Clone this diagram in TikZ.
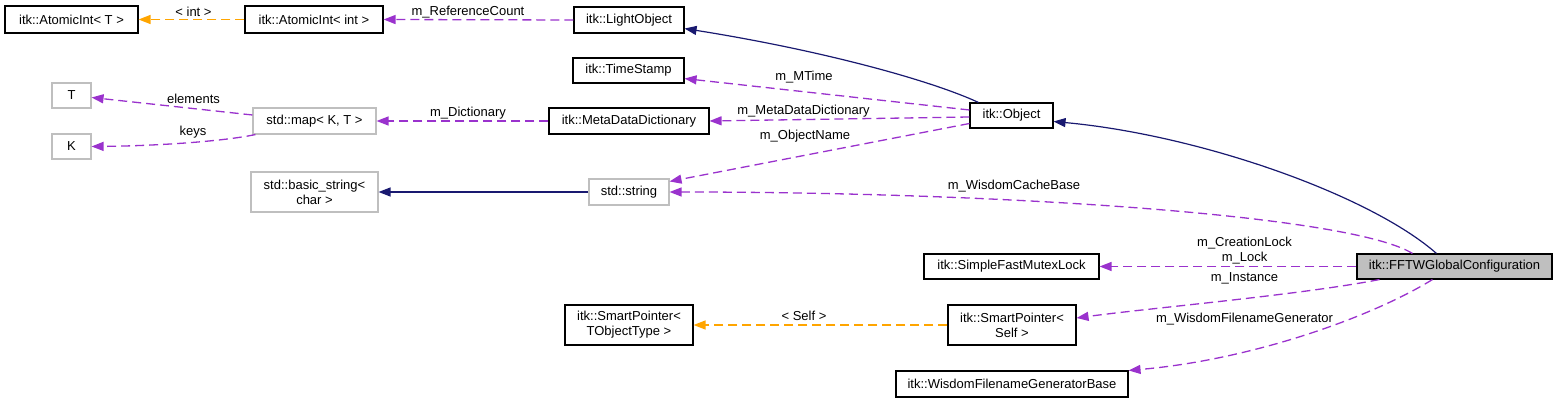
\documentclass[tikz,border=0pt]{standalone}
\usepackage{fontspec}
\setmainfont{Liberation Sans}
\usetikzlibrary{arrows.meta}
\definecolor{purp}{HTML}{9A32CD}
\definecolor{orng}{HTML}{FFA500}
\definecolor{navyc}{HTML}{191970}
\definecolor{gbord}{HTML}{BFBFBF}
\definecolor{gfill}{HTML}{BFBFBF}
\tikzset{
  box/.style={draw=black, line width=1.1pt, fill=white, inner sep=0pt, align=center,
    font=\fontsize{13}{15}\selectfont},
  gbox/.style={box, draw=gbord},
  lab/.style={inner sep=0pt, align=center, font=\fontsize{13}{15}\selectfont},
  tip/.style={-{Triangle[length=12pt,width=9pt]}},
  dep/.style={tip, draw=purp, line width=1.3pt, dash pattern=on 9pt off 5pt},
  tpl/.style={tip, draw=orng, line width=1.3pt, dash pattern=on 9pt off 5pt},
  inh/.style={tip, draw=navyc, line width=1.2pt},
}
\begin{document}
\begin{tikzpicture}[x=1pt,y=-1pt]
\useasboundingbox (0,0) rectangle (1557,403);
% nodes
\node[box, minimum width=133pt, minimum height=27pt] (aT) at (71.5,19.5) {itk::AtomicInt< T >};
\node[box, minimum width=138pt, minimum height=27pt] (aInt) at (314,19.5) {itk::AtomicInt< int >};
\node[box, minimum width=110pt, minimum height=26pt] (light) at (629,20) {itk::LightObject};
\node[box, minimum width=111pt, minimum height=25pt] (ts) at (628.5,70.5) {itk::TimeStamp};
\node[gbox, minimum width=39pt, minimum height=25pt] (T) at (71.5,95.5) {T};
\node[gbox, minimum width=39pt, minimum height=25pt] (K) at (71.5,146.5) {K};
\node[gbox, minimum width=123pt, minimum height=26pt] (map) at (314.5,121) {std::map< K, T >};
\node[box, minimum width=160pt, minimum height=26pt] (mdd) at (629,121) {itk::MetaDataDictionary};
\node[box, minimum width=83pt, minimum height=25pt] (obj) at (1011.5,115.5) {itk::Object};
\node[gbox, minimum width=127pt, minimum height=40pt] (bstr) at (314.5,192) {std::basic\_string<\\char >};
\node[gbox, minimum width=80pt, minimum height=26pt] (str) at (629,192) {std::string};
\node[box, minimum width=175pt, minimum height=25pt] (mutex) at (1011.5,266.5) {itk::SimpleFastMutexLock};
\node[box, fill=gfill, minimum width=195pt, minimum height=25pt] (fftw) at (1454.5,266.5) {itk::FFTWGlobalConfiguration};
\node[box, minimum width=128pt, minimum height=40pt] (spT) at (629,325) {itk::SmartPointer<\\TObjectType >};
\node[box, minimum width=128pt, minimum height=40pt] (spS) at (1012,325) {itk::SmartPointer<\\Self >};
\node[box, minimum width=232pt, minimum height=26pt] (wfgb) at (1012,384) {itk::WisdomFilenameGeneratorBase};
% edges
\draw[tpl] (aInt.west) -- (aT.east) node[lab] at (193.5,12) {< int >};
\draw[dep] (light.west) -- (aInt.east) node[lab] at (468,12) {m\_ReferenceCount};
\draw[dep] ([yshift=6pt]map.west) -- ([yshift=-2pt]T.east) node[lab] at (193.5,99) {elements};
\draw[dep] ([xshift=3pt]map.south west) .. controls (220,142) and (150,146) .. (K.east) node[lab] at (193,132) {keys};
\draw[dep] (mdd.west) -- (map.east) node[lab] at (468,113.5) {m\_Dictionary};
\draw[inh] ([xshift=9pt]obj.north west) .. controls (930,80) and (820,50) .. ([yshift=5pt]light.south east);
\draw[dep] ([yshift=5.5pt]obj.west) -- ([yshift=5pt]ts.south east) node[lab] at (804,77) {m\_MTime};
\draw[dep] ([yshift=-1.5pt]obj.west) -- (mdd.east) node[lab] at (803.5,111) {m\_MetaDataDictionary};
\draw[dep] ([yshift=-8pt]obj.west) -- ([yshift=-3pt]str.north east) node[lab] at (805,136) {m\_ObjectName};
\draw[inh] ([xshift=80pt]fftw.north west) .. controls (1370,195) and (1200,135) .. ([yshift=-6pt]obj.east);
\draw[dep] ([xshift=56pt]fftw.north west) .. controls (1350,215) and (1000,192) .. (str.east) node[lab] at (1014,186) {m\_WisdomCacheBase};
\draw[inh] (str.west) -- (bstr.east);
\draw[dep] (fftw.west) -- (mutex.east) node[lab] at (1244.5,251) {m\_CreationLock\\m\_Lock};
\draw[dep] ([xshift=23pt]fftw.south west) .. controls (1300,295) and (1150,308) .. ([yshift=7pt]spS.east) node[lab] at (1244.5,278.5) {m\_Instance};
\draw[dep] ([xshift=76pt]fftw.south west) .. controls (1370,318) and (1250,360) .. (wfgb.north east) node[lab] at (1244.5,319.5) {m\_WisdomFilenameGenerator};
\draw[tpl] (spS.west) -- (spT.east) node[lab] at (804,316) {< Self >};
\end{tikzpicture}
\end{document}
